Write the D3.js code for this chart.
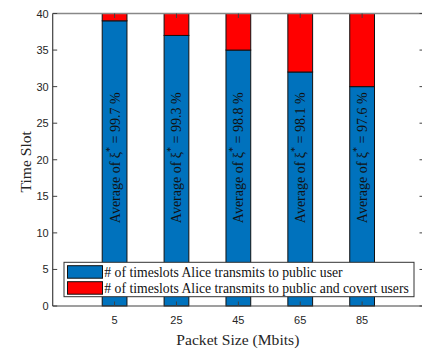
<!DOCTYPE html>
<html>
<head>
<meta charset="utf-8">
<script src="https://cdn.jsdelivr.net/npm/d3@7"></script>
<style>
  html, body { margin: 0; padding: 0; background: #fff; }
  svg { display: block; }
</style>
</head>
<body>
<svg id="chart" width="422" height="352"></svg>
<script>
// Packet sizes on the x axis and the stacked slot counts per size
const packetSizes = ["5", "25", "45", "65", "85"];
const publicSlots = [39, 37, 35, 32, 30];
const covertSlots = [1, 3, 5, 8, 10];
const avgXi = ["99.7", "99.3", "98.8", "98.1", "97.6"];
const yTicks = [0, 5, 10, 15, 20, 25, 30, 35, 40];
const seriesNames = [
  "# of timeslots Alice transmits to public user",
  "# of timeslots Alice transmits to public and covert users"
];
const seriesColors = ["#0072BD", "#FF0000"];

const svg = d3.select("#chart");
const plotL = 52.7, plotR = 424, plotT = 13.5, plotB = 306;
const axisColor = "#404040";
const serif = "'Liberation Serif', 'Times New Roman', serif";
const sans = "'Liberation Sans', Arial, sans-serif";

// categories sit at positions 1..5 inside a [0, 6] axis
const x = d3.scaleLinear().domain([0, packetSizes.length + 1]).range([plotL, plotR]);
const y = d3.scaleLinear().domain([0, 40]).range([plotB, plotT]);
const barW = x(0.4) - x(0);

// stacked bars
const rows = packetSizes.map((p, i) => ({ p, i, a: publicSlots[i], b: covertSlots[i] }));
const stack = d3.stack().keys(["a", "b"])(rows);

stack.forEach((layer, k) => {
  svg.append("g").selectAll("rect").data(layer).join("rect")
    .attr("x", (d, i) => x(i + 1) - barW / 2)
    .attr("width", barW)
    .attr("y", d => y(d[1]))
    .attr("height", d => y(d[0]) - y(d[1]))
    .attr("fill", seriesColors[k])
    .attr("stroke", "#111")
    .attr("stroke-width", 1);
});

// rotated annotation in each bar
const notes = svg.append("g");
rows.forEach((d, i) => {
  const t = notes.append("text")
    .attr("transform", `translate(${x(i + 1)},${y(20) - 2}) rotate(-90)`)
    .attr("text-anchor", "middle")
    .attr("dominant-baseline", "central")
    .attr("font-family", serif)
    .attr("font-size", 14)
    .attr("fill", "#111");
  t.append("tspan").text("Average of ξ");
  t.append("tspan").attr("font-size", 10).attr("dy", -6).text("*");
  t.append("tspan").attr("dy", 6).text(` = ${avgXi[i]} %`);
});

// box axes with inward ticks
const axes = svg.append("g").attr("stroke", axisColor).attr("fill", "none");
axes.append("line").attr("x1", plotL).attr("x2", plotR).attr("y1", plotB).attr("y2", plotB).attr("stroke-width", 1.2);
axes.append("line").attr("x1", plotL).attr("x2", plotL).attr("y1", plotT).attr("y2", plotB).attr("stroke-width", 1.2);
axes.append("line").attr("x1", plotL).attr("x2", plotR).attr("y1", plotT).attr("y2", plotT).attr("stroke", "#888").attr("stroke-width", 1.5);
axes.append("line").attr("x1", plotR).attr("x2", plotR).attr("y1", plotT).attr("y2", plotB).attr("stroke-width", 1.2);

const tickLen = 4.5;
yTicks.forEach(v => {
  axes.append("line").attr("x1", plotL).attr("x2", plotL + tickLen).attr("y1", y(v)).attr("y2", y(v));
  axes.append("line").attr("x1", plotR - tickLen).attr("x2", plotR).attr("y1", y(v)).attr("y2", y(v));
});
packetSizes.forEach((p, i) => {
  axes.append("line").attr("x1", x(i + 1)).attr("x2", x(i + 1)).attr("y1", plotB).attr("y2", plotB - tickLen);
  axes.append("line").attr("x1", x(i + 1)).attr("x2", x(i + 1)).attr("y1", plotT).attr("y2", plotT + tickLen);
});

// tick labels
svg.append("g").selectAll("text").data(yTicks).join("text")
  .attr("x", plotL - 4)
  .attr("y", d => y(d))
  .attr("text-anchor", "end")
  .attr("dominant-baseline", "central")
  .attr("font-family", sans)
  .attr("font-size", 11)
  .attr("fill", "#262626")
  .text(d => d);

svg.append("g").selectAll("text").data(packetSizes).join("text")
  .attr("x", (d, i) => x(i + 1))
  .attr("y", plotB + 14)
  .attr("text-anchor", "middle")
  .attr("dominant-baseline", "central")
  .attr("font-family", sans)
  .attr("font-size", 11)
  .attr("fill", "#262626")
  .text(d => d);

// axis titles
svg.append("text")
  .attr("x", (plotL + plotR) / 2 - 0.5)
  .attr("y", 339)
  .attr("text-anchor", "middle")
  .attr("dominant-baseline", "central")
  .attr("font-family", serif)
  .attr("font-size", 15.6)
  .attr("fill", "#262626")
  .text("Packet Size (Mbits)");

svg.append("text")
  .attr("transform", `translate(25,${(plotT + plotB) / 2 + 2}) rotate(-90)`)
  .attr("text-anchor", "middle")
  .attr("dominant-baseline", "central")
  .attr("font-family", serif)
  .attr("font-size", 15.6)
  .attr("fill", "#262626")
  .text("Time Slot");

// legend
const lg = svg.append("g");
lg.append("rect")
  .attr("x", 64).attr("y", 262.3)
  .attr("width", 350).attr("height", 34.4)
  .attr("fill", "#fff").attr("stroke", "#333").attr("stroke-width", 1);
seriesNames.forEach((name, k) => {
  const yy = 265.7 + k * 16;
  lg.append("rect")
    .attr("x", 67.5).attr("y", yy)
    .attr("width", 35).attr("height", 12.5)
    .attr("fill", seriesColors[k]).attr("stroke", "#111").attr("stroke-width", 1);
  lg.append("text")
    .attr("x", 104.3).attr("y", yy + 6.5)
    .attr("dominant-baseline", "central")
    .attr("font-family", serif)
    .attr("font-size", 13.7)
    .attr("fill", "#111")
    .text(name);
});
</script>
</body>
</html>
